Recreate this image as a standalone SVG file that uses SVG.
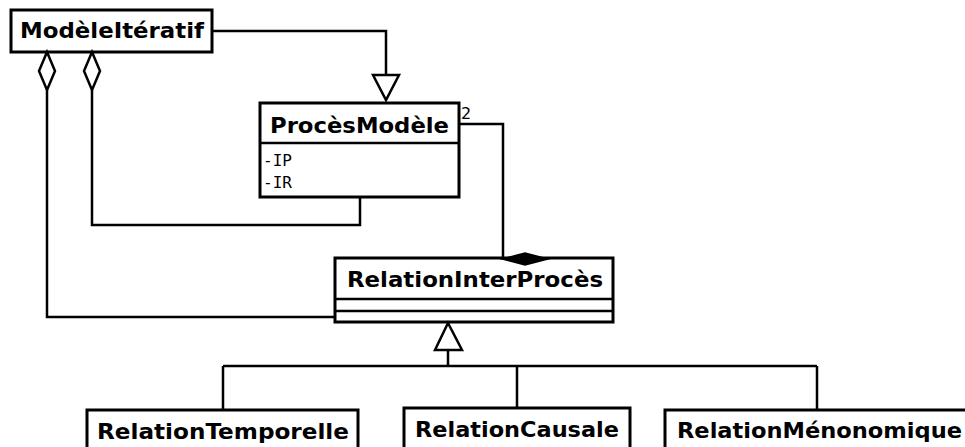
<svg xmlns="http://www.w3.org/2000/svg" width="965" height="447" viewBox="0 0 965 447">
<style>
.box{fill:#fff;stroke:#000;stroke-width:3}
.ln{fill:none;stroke:#000;stroke-width:2.5}
.t{font-family:"DejaVu Sans",sans-serif;font-weight:bold;font-size:21px;fill:#000}
.a{font-family:"DejaVu Sans Mono",monospace;font-size:16px;fill:#000}
.m{font-family:"DejaVu Sans",sans-serif;font-size:16px;fill:#000}
.open{fill:#fff;stroke:#000;stroke-width:2.5}
.fill{fill:#000;stroke:#000;stroke-width:1.5}
</style>
<rect width="965" height="447" fill="#fff"/>
<g id="ModeleIteratif">
<rect class="box" x="11" y="10" width="201" height="42"/>
<text class="t" x="20" y="38" textLength="184" lengthAdjust="spacingAndGlyphs">ModèleItératif</text>
</g>
<g id="ProcesModele">
<rect class="box" x="260" y="103" width="199" height="94"/>
<line class="ln" x1="260" y1="143" x2="459" y2="143" stroke-width="2"/>
<text class="t" x="270" y="133" textLength="179" lengthAdjust="spacingAndGlyphs">ProcèsModèle</text>
<text class="a" x="263" y="166">-IP</text>
<text class="a" x="263" y="188">-IR</text>
</g>
<g id="RelationInterProces">
<rect class="box" x="335" y="258" width="278" height="64"/>
<line class="ln" x1="335" y1="299" x2="613" y2="299"/>
<line class="ln" x1="335" y1="311" x2="613" y2="311"/>
<text class="t" x="347" y="287" textLength="256" lengthAdjust="spacingAndGlyphs">RelationInterProcès</text>
</g>
<g id="RelationTemporelle">
<rect class="box" x="87" y="410" width="271" height="50"/>
<text class="t" x="97" y="439" textLength="252" lengthAdjust="spacingAndGlyphs">RelationTemporelle</text>
</g>
<g id="RelationCausale">
<rect class="box" x="404" y="408" width="226" height="50"/>
<text class="t" x="415" y="437" textLength="204" lengthAdjust="spacingAndGlyphs">RelationCausale</text>
</g>
<g id="RelationMenonomique">
<rect class="box" x="665" y="410" width="320" height="50"/>
<text class="t" x="677" y="438" textLength="285" lengthAdjust="spacingAndGlyphs">RelationMénonomique</text>
</g>
<g id="connectors">
<path class="ln" d="M212,31 H386 V75"/>
<polygon class="open" points="373,75 399,75 386,100"/>
<path class="ln" d="M47,90 V317 H335"/>
<polygon class="open" points="47,52 55,71 47,90 39,71"/>
<path class="ln" d="M92,90 V225 H360 V197"/>
<polygon class="open" points="92,52 100,71 92,90 84,71"/>
<path class="ln" d="M459,124 H503 V258"/>
<polygon class="fill" points="502,259 525,253 548,259 525,265"/>
<text class="m" x="461" y="119">2</text>
<polygon class="open" points="448,323 435,350 462,350"/>
<path class="ln" d="M448,350 V366 M223,366 H817 M223,366 V410 M517,366 V408 M817,366 V410"/>
</g>
</svg>
